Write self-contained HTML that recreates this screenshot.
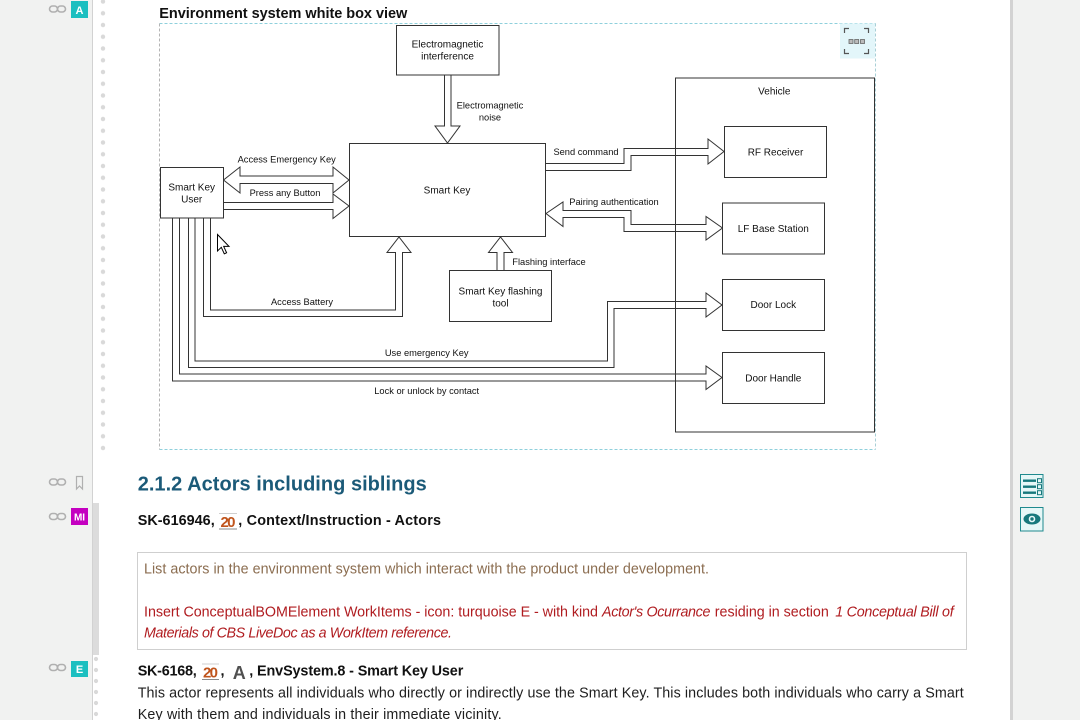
<!DOCTYPE html>
<html><head><meta charset="utf-8"><style>
html,body{margin:0;padding:0;width:1080px;height:720px;overflow:hidden;background:#fff}
svg{position:absolute;left:0;top:0}
</style></head><body>
<svg width="1080" height="720" viewBox="0 0 1080 720" xmlns="http://www.w3.org/2000/svg" font-family="'Liberation Sans', Arial, sans-serif">
<defs>
<pattern id="dots1" x="98" y="-4.375" width="10" height="11.75" patternUnits="userSpaceOnUse"><circle cx="5" cy="5.875" r="2.2" fill="#d9d9d9"/></pattern>
<pattern id="dots2" x="91" y="653.5" width="10" height="11" patternUnits="userSpaceOnUse"><circle cx="5" cy="5.5" r="2.1" fill="#d9d9d9"/></pattern>
</defs>
<!-- left gutter -->
<rect x="0" y="0" width="92" height="720" fill="#f1f2f1"/>
<rect x="92" y="0" width="1" height="720" fill="#d2d2d2"/>
<rect x="93" y="503" width="6" height="152" fill="#dcdcdc"/>
<rect x="98" y="0" width="10" height="452" fill="url(#dots1)"/>
<rect x="91" y="655" width="10" height="65" fill="url(#dots2)"/>
<!-- gutter icons -->
<g fill="none" stroke="#b0b0b0" stroke-width="1.6">
<rect x="49.5" y="6" width="8" height="6" rx="3"/><rect x="57.5" y="6" width="8" height="6" rx="3"/>
<rect x="49.5" y="479" width="8" height="6" rx="3"/><rect x="57.5" y="479" width="8" height="6" rx="3"/>
<rect x="49.5" y="513.5" width="8" height="6" rx="3"/><rect x="57.5" y="513.5" width="8" height="6" rx="3"/>
<rect x="49.5" y="664.5" width="8" height="6" rx="3"/><rect x="57.5" y="664.5" width="8" height="6" rx="3"/>
<path d="M76.5,476.5 H82.5 V489 L79.5,486 L76.5,489 Z" stroke-width="1.2"/>
</g>
<rect x="71" y="1" width="17" height="17" fill="#1cbfc0"/>
<text x="79.5" y="14" font-size="11" font-weight="bold" fill="#fff" text-anchor="middle">A</text>
<rect x="71" y="508" width="17" height="17" fill="#c400c0"/>
<text x="79.5" y="520.5" font-size="10" font-weight="bold" fill="#fff" text-anchor="middle">MI</text>
<rect x="71" y="661" width="17" height="16" fill="#1cbfc0"/>
<text x="79.5" y="673" font-size="11" font-weight="bold" fill="#fff" text-anchor="middle">E</text>

<!-- right panel -->
<rect x="1013" y="0" width="67" height="720" fill="#f1f2f1"/>
<rect x="1010" y="0" width="3" height="720" fill="#d3d3d3"/>
<rect x="1020.5" y="474.5" width="22.5" height="23" fill="#e6f7f7" stroke="#1f8a8e"/>
<g stroke="#17787c" stroke-width="2.4"><line x1="1023" y1="480.7" x2="1036" y2="480.7"/><line x1="1023" y1="486.7" x2="1036" y2="486.7"/><line x1="1023" y1="492.7" x2="1036" y2="492.7"/></g>
<g fill="none" stroke="#17787c" stroke-width="1"><rect x="1037.5" y="478.7" width="4" height="4"/><rect x="1037.5" y="484.7" width="4" height="4"/><rect x="1037.5" y="490.7" width="4" height="4"/></g>
<rect x="1020.5" y="507.5" width="22.5" height="23.5" fill="#e6f7f7" stroke="#1f8a8e"/>
<ellipse cx="1032" cy="519" rx="8.5" ry="5.5" fill="#17787c"/>
<circle cx="1032" cy="519" r="3.3" fill="#e6f7f7"/>
<circle cx="1032" cy="519" r="1.7" fill="#17787c"/>

<!-- title -->
<text x="159.3" y="18" font-size="14.5" font-weight="bold" fill="#111" textLength="248">Environment system white box view</text>

<!-- diagram frame -->
<line x1="159.5" y1="23.5" x2="875.5" y2="23.5" stroke="#8fd0dc" stroke-dasharray="3,2"/>
<line x1="159.5" y1="449.5" x2="875.5" y2="449.5" stroke="#8fd0dc" stroke-dasharray="3,2"/>
<line x1="159.5" y1="23.5" x2="159.5" y2="449.5" stroke="#b4b4b4" stroke-dasharray="3,2"/>
<line x1="875.5" y1="23.5" x2="875.5" y2="449.5" stroke="#a9cfd6" stroke-dasharray="3,2"/>
<!-- fullscreen icon -->
<rect x="840" y="23.5" width="35" height="35" fill="#e3f6fa"/>
<g fill="none" stroke="#555" stroke-width="1.2">
<path d="M844.5,33 V28.5 H849"/><path d="M864,28.5 H868.5 V33"/><path d="M844.5,49 V53.5 H849"/><path d="M864,53.5 H868.5 V49"/>
</g>
<g fill="#bbb" stroke="#666" stroke-width="0.8"><rect x="849" y="39.5" width="4" height="4"/><rect x="854.7" y="39.5" width="4" height="4"/><rect x="860.5" y="39.5" width="4" height="4"/></g>

<!-- connectors -->
<g fill="none" stroke="#333" stroke-width="1">
<polygon points="444.5,75 444.5,126 435,126 447.5,143 460,126 451,126 451,75"/>
<polygon points="223.5,180 240,167 240,176 333,176 333,167 349,180 333,193 333,183.5 240,183.5 240,193"/>
<polygon points="223.5,202.5 333,202.5 333,194 349,206 333,218.5 333,209.5 223.5,209.5"/>
<polygon points="545.5,163.5 624,163.5 624,148.5 708,148.5 708,139 724,151.5 708,164 708,155.5 631,155.5 631,170.5 545.5,170.5"/>
<polygon points="546,213.5 563,202 563,210.5 631,210.5 631,224.5 706,224.5 706,216.5 722.5,228 706,240 706,231.5 624,231.5 624,217.5 563,217.5 563,226.5"/>
<polygon points="203.5,218 203.5,316.5 402.5,316.5 402.5,252.5 411,252.5 399,237 387,252.5 395.5,252.5 395.5,310 210.5,310 210.5,218"/>
<polygon points="497,270.5 497,252.5 488.5,252.5 500.5,237 512.5,252.5 504,252.5 504,270.5"/>
<polygon points="188.5,218 188.5,367.5 614,367.5 614,308.5 706,308.5 706,317 722,305 706,293 706,301.5 607.5,301.5 607.5,361 195,361 195,218"/>
<polygon points="172.5,218 172.5,381 706,381 706,389.5 722,377.5 706,366 706,374 179.5,374 179.5,218"/>
</g>

<!-- nodes -->
<g stroke="#333" stroke-width="1">
<rect x="675.5" y="78" width="199" height="354" fill="none"/>
<rect x="396.5" y="25.5" width="102.5" height="49.5" fill="#fff"/>
<rect x="349.5" y="143.5" width="196" height="93" fill="#fff"/>
<rect x="160.5" y="167.5" width="63" height="50.5" fill="#fff"/>
<rect x="449.5" y="270.5" width="102" height="51" fill="#fff"/>
<rect x="724.5" y="126.5" width="102" height="51" fill="#fff"/>
<rect x="722.5" y="203" width="102" height="51" fill="#fff"/>
<rect x="722.5" y="279.5" width="102" height="51" fill="#fff"/>
<rect x="722.5" y="352.5" width="102" height="51" fill="#fff"/>
</g>

<!-- node labels -->
<g font-size="10" fill="#111" text-anchor="middle">
<text x="447.5" y="47.6">Electromagnetic</text>
<text x="447.5" y="59.6">interference</text>
<text x="447" y="193.6">Smart Key</text>
<text x="191.7" y="190.3">Smart Key</text>
<text x="191.7" y="202.3">User</text>
<text x="500.5" y="294.6">Smart Key flashing</text>
<text x="500.5" y="306.3">tool</text>
<text x="774.3" y="94.3">Vehicle</text>
<text x="775.5" y="155.3">RF Receiver</text>
<text x="773.3" y="231.9">LF Base Station</text>
<text x="773.3" y="308.1">Door Lock</text>
<text x="773.3" y="381.3">Door Handle</text>
</g>
<!-- edge labels -->
<g font-size="9.3" fill="#111" text-anchor="middle">
<text x="490" y="108.4">Electromagnetic</text>
<text x="490" y="120.7">noise</text>
<text x="286.7" y="162.4">Access Emergency Key</text>
<text x="285" y="196.1">Press any Button</text>
<text x="586" y="155.1">Send command</text>
<text x="614" y="205.1">Pairing authentication</text>
<text x="549" y="265.1">Flashing interface</text>
<text x="302" y="305.1">Access Battery</text>
<text x="426.7" y="356.1">Use emergency Key</text>
<text x="426.7" y="394.1">Lock or unlock by contact</text>
</g>

<!-- cursor -->
<path d="M217.5,234.5 L217.5,251 L221.3,247.3 L224.3,253.8 L226.6,252.8 L223.7,246.4 L229,246.4 Z" fill="#fff" stroke="#000" stroke-width="1"/>

<!-- section heading -->
<text x="137.7" y="490.5" font-size="20" font-weight="bold" fill="#1b5a78" textLength="289">2.1.2 Actors including siblings</text>

<!-- SK-616946 line -->
<text x="137.7" y="525" font-size="14.4" font-weight="bold" fill="#111" textLength="77">SK-616946,</text>
<line x1="219" y1="513.5" x2="237" y2="513.5" stroke="#cfcfcf"/>
<line x1="219" y1="529" x2="237" y2="529" stroke="#8a8a8a"/>
<text x="228" y="527" font-size="15" font-weight="bold" fill="#c0541c" text-anchor="middle" textLength="15">20</text>
<text x="238.3" y="525" font-size="14.4" font-weight="bold" fill="#111" textLength="202.7">, Context/Instruction - Actors</text>

<!-- instruction box -->
<rect x="137.5" y="552.5" width="829" height="97" fill="#fff" stroke="#cfcfcf"/>
<text x="144" y="573.5" font-size="14.3" fill="#8b6d50" textLength="565">List actors in the environment system which interact with the product under development.</text>
<g font-size="14.3" fill="#b01c20">
<text x="144" y="616.5" textLength="454">Insert ConceptualBOMElement WorkItems - icon: turquoise E - with kind</text>
<text x="602" y="616.5" font-style="italic" textLength="108.4">Actor's Ocurrance</text>
<text x="714.8" y="616.5" textLength="114">residing in section</text>
<text x="835.2" y="616.5" font-style="italic" textLength="118.5">1 Conceptual Bill of</text>
<text x="144" y="637.3" font-style="italic" textLength="308">Materials of CBS LiveDoc as a WorkItem reference.</text>
</g>

<!-- SK-6168 line -->
<text x="137.7" y="675.7" font-size="14.4" font-weight="bold" fill="#111" textLength="59">SK-6168,</text>
<line x1="202" y1="664" x2="219" y2="664" stroke="#cfcfcf"/>
<line x1="202" y1="679.5" x2="219" y2="679.5" stroke="#8a8a8a"/>
<text x="210.5" y="677.5" font-size="15" font-weight="bold" fill="#c0541c" text-anchor="middle" textLength="15">20</text>
<text x="220.5" y="675.7" font-size="14.4" font-weight="bold" fill="#111">,</text>
<text x="239.2" y="679" font-size="18" font-weight="bold" fill="#505050" text-anchor="middle">A</text>
<text x="249.3" y="675.7" font-size="14.4" font-weight="bold" fill="#111" textLength="214">, EnvSystem.8 - Smart Key User</text>
<text x="137.7" y="697.3" font-size="14.3" fill="#1e1e1e" textLength="826">This actor represents all individuals who directly or indirectly use the Smart Key. This includes both individuals who carry a Smart</text>
<text x="137.7" y="719" font-size="14.3" fill="#1e1e1e" textLength="364">Key with them and individuals in their immediate vicinity.</text>
</svg>
</body></html>
